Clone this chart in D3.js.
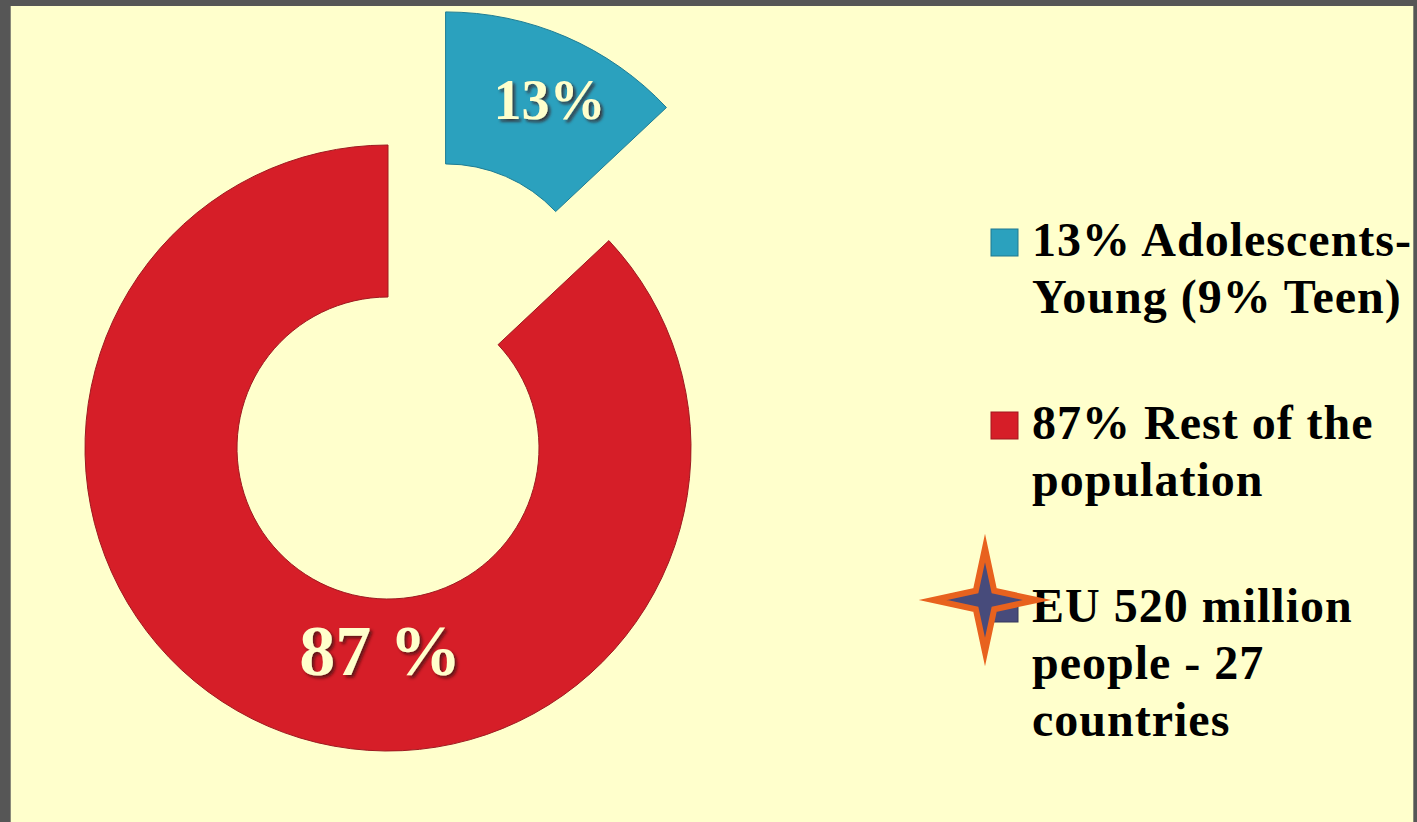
<!DOCTYPE html>
<html>
<head>
<meta charset="utf-8">
<script src="https://cdn.jsdelivr.net/npm/d3@7"></script>
<style>
  html, body { margin: 0; padding: 0; background: #565656; }
  svg { display: block; }
</style>
</head>
<body>
<svg id="chart" width="1417" height="822"></svg>
<script>
// Population shares, EU
const categories = ["Adolescents-Young", "Rest of the population"];
const shares = [13, 87];
const sliceLabels = ["13%", "87 %"];
const sliceColors = ["#2BA1BE", "#D61E28"];
const sliceStrokes = ["#1E7D94", "#9E1A20"];
const legendLines = [
  ["13% Adolescents-", "Young (9% Teen)"],
  ["87% Rest of the", "population"],
  ["EU 520 million", "people - 27", "countries"]
];
const legendColors = ["#2BA1BE", "#D61E28", "#474B7B"];

const W = 1417, H = 822;
const svg = d3.select("#chart");

// slide panel
svg.append("rect").attr("x", 0).attr("y", 0).attr("width", W).attr("height", H).attr("fill", "#565656");
svg.append("rect").attr("x", 10).attr("y", 6).attr("width", 1404).attr("height", H - 6).attr("fill", "#FFFFCC");
svg.append("line").attr("x1", 10.5).attr("x2", 10.5).attr("y1", 6).attr("y2", H).attr("stroke", "#8a8a7a").attr("stroke-width", 1);
svg.append("line").attr("x1", 1413.5).attr("x2", 1413.5).attr("y1", 6).attr("y2", H).attr("stroke", "#8a8a7a").attr("stroke-width", 1);

const defs = svg.append("defs");
const shadow = defs.append("filter").attr("id", "labelShadow")
  .attr("x", "-20%").attr("y", "-20%").attr("width", "150%").attr("height", "150%");
shadow.append("feDropShadow").attr("dx", 2.5).attr("dy", 2.5).attr("stdDeviation", 1.6)
  .attr("flood-color", "#3a1010").attr("flood-opacity", 0.75);

// donut
const cx = 388, cy = 448;
const outerR = 303, innerR = 151;
const explode = [145, 0];

const pie = d3.pie().sort(null).value(d => d).startAngle(0).endAngle(2 * Math.PI);
const arcs = pie(shares);
const arc = d3.arc().innerRadius(innerR).outerRadius(outerR);

const g = svg.append("g").attr("transform", `translate(${cx},${cy})`);

const slices = g.selectAll("g.slice").data(arcs).join("g")
  .attr("class", "slice")
  .attr("transform", (d, i) => {
    const a = (d.startAngle + d.endAngle) / 2;
    return `translate(${Math.sin(a) * explode[i]},${-Math.cos(a) * explode[i]})`;
  });

slices.append("path")
  .attr("d", arc)
  .attr("fill", (d, i) => sliceColors[i])
  .attr("stroke", (d, i) => sliceStrokes[i])
  .attr("stroke-width", 1);

// label anchors: angle (radians from top) and radius per slice
const labelAngle = [0.45, Math.PI * 1.012];
const labelRadius = [239, 203];
slices.append("text")
  .attr("transform", (d, i) => {
    const a = labelAngle[i];
    return `translate(${Math.sin(a) * labelRadius[i]},${-Math.cos(a) * labelRadius[i]})`;
  })
  .attr("text-anchor", "middle")
  .attr("dominant-baseline", "central")
  .attr("font-family", "'Liberation Serif', 'DejaVu Serif', serif")
  .attr("font-weight", "bold")
  .attr("font-size", (d, i) => i === 0 ? 56 : 72)
  .attr("fill", "#FFFFCC")
  .attr("filter", "url(#labelShadow)")
  .text((d, i) => sliceLabels[i]);

// legend
const legendX = 1032;
const rowY = d3.scaleLinear().domain([0, 1]).range([256, 439]);
const lineH = 57;

const items = svg.append("g").selectAll("g").data(legendLines).join("g")
  .attr("transform", (d, i) => `translate(0,${rowY(i)})`);

items.append("rect")
  .attr("x", 991).attr("y", -27).attr("width", 27).attr("height", 27)
  .attr("fill", (d, i) => legendColors[i])
  .attr("stroke", (d, i) => d3.color(legendColors[i]).darker(0.8))
  .attr("stroke-width", 1);

items.append("text")
  .attr("x", legendX)
  .attr("font-family", "'Liberation Serif', 'DejaVu Serif', serif")
  .attr("font-weight", "bold")
  .attr("font-size", 48)
  .attr("letter-spacing", 1)
  .attr("fill", "#000")
  .selectAll("tspan").data(d => d).join("tspan")
  .attr("x", legendX)
  .attr("y", (d, j) => j * lineH)
  .text(d => d);

// four-point star over the last legend marker
const starCx = 985, starCy = 600, starOuter = 52, starInner = 13;
const starPts = d3.range(8).map(k => {
  const a = k * Math.PI / 4;
  const r = k % 2 === 0 ? starOuter : starInner;
  return [starCx + Math.sin(a) * r, starCy - Math.cos(a) * r];
});
svg.append("path")
  .attr("d", d3.line()(starPts) + "Z")
  .attr("fill", "#474B7B")
  .attr("stroke", "#E8621E")
  .attr("stroke-width", 6)
  .attr("stroke-linejoin", "miter")
  .attr("stroke-miterlimit", 20);
</script>
</body>
</html>
